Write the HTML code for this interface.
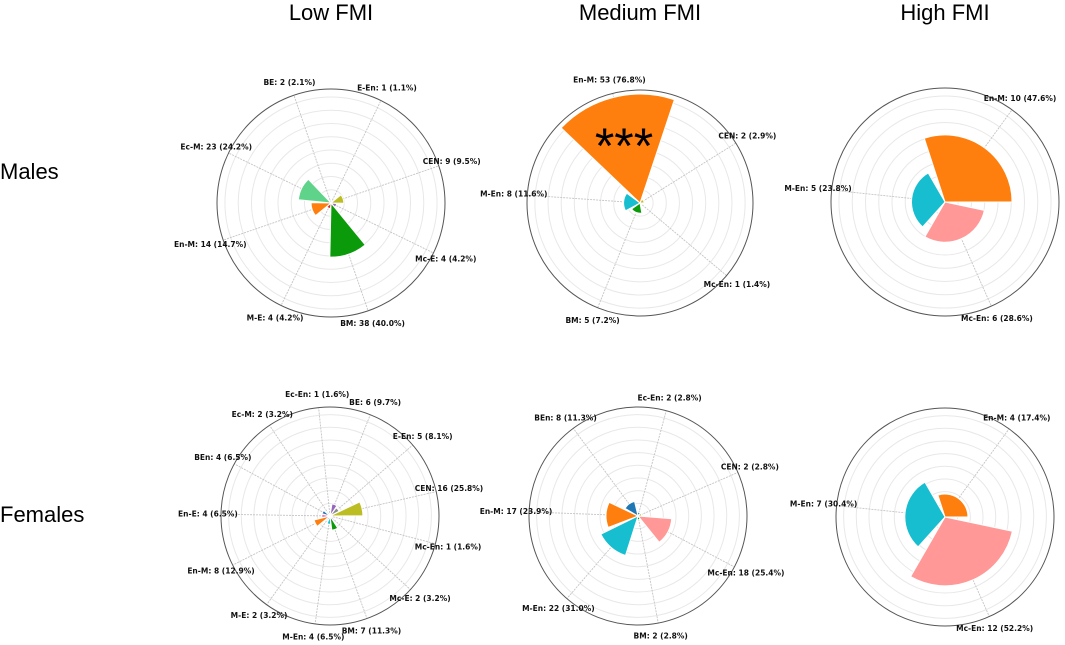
<!DOCTYPE html>
<html><head><meta charset="utf-8"><style>
body{margin:0;background:#fff;width:1065px;height:645px;overflow:hidden}
svg{display:block}
.t{font-family:"Liberation Sans",sans-serif;fill:#000}
.lb{font-family:"DejaVu Sans",sans-serif;font-weight:bold;font-size:7.5px;fill:#111}
</style></head><body>
<svg id="fig" width="1065" height="645" viewBox="0 0 1065 645" xmlns="http://www.w3.org/2000/svg">
<text class="t" x="331" y="20" font-size="22" text-anchor="middle">Low FMI</text>
<text class="t" x="640" y="20" font-size="22" text-anchor="middle">Medium FMI</text>
<text class="t" x="945" y="20" font-size="22" text-anchor="middle">High FMI</text>
<text class="t" x="0" y="179" font-size="22">Males</text>
<text class="t" x="0" y="522" font-size="22">Females</text>
<g id="plots"></g>
</svg>
<script>
// ---- data ----
const lowMaleCats = ["BE","E-En","CEN","Mc-E","BM","M-E","En-M","Ec-M"];
const lowMaleCounts = [2,1,9,4,38,4,14,23];
const lowMalePcts = ["2.1","1.1","9.5","4.2","40.0","4.2","14.7","24.2"];

const lowFemaleCats = ["Ec-En","BE","E-En","CEN","Mc-En","Mc-E","BM","M-En","M-E","En-M","En-E","BEn","Ec-M"];
const lowFemaleCounts = [1,6,5,16,1,2,7,4,2,8,4,4,2];
const lowFemalePcts = ["1.6","9.7","8.1","25.8","1.6","3.2","11.3","6.5","3.2","12.9","6.5","6.5","3.2"];

const medMaleCats = ["En-M","CEN","Mc-En","BM","M-En"];
const medMaleCounts = [53,2,1,5,8];
const medMalePcts = ["76.8","2.9","1.4","7.2","11.6"];

const medFemaleCats = ["Ec-En","CEN","Mc-En","BM","M-En","En-M","BEn"];
const medFemaleCounts = [2,2,18,2,22,17,8];
const medFemalePcts = ["2.8","2.8","25.4","2.8","31.0","23.9","11.3"];

const highMaleCats = ["En-M","Mc-En","M-En"];
const highMaleCounts = [10,6,5];
const highMalePcts = ["47.6","28.6","23.8"];

const highFemaleCats = ["En-M","Mc-En","M-En"];
const highFemaleCounts = [4,12,7];
const highFemalePcts = ["17.4","52.2","30.4"];

const colors = {"BE":"#9467bd","E-En":"#8c8c8c","CEN":"#bcbd22","Mc-E":"#9467bd","BM":"#0a9a0a","M-E":"#d62728",
 "En-M":"#ff7f0e","Ec-M":"#5fd38a","Ec-En":"#1f77b4","Mc-En":"#ff9896","M-En":"#17becf","En-E":"#e377c2","BEn":"#1f77b4"};

const plotsSpec = [
 {name:"low-males",cats:lowMaleCats,counts:lowMaleCounts,pcts:lowMalePcts,cx:331,cy:203,r:114,start:341,rmax:80},
 {name:"low-females",cats:lowFemaleCats,counts:lowFemaleCounts,pcts:lowFemalePcts,cx:330,cy:516,r:109,start:354,rmax:53},
 {name:"medium-males",cats:medMaleCats,counts:medMaleCounts,pcts:medMalePcts,cx:640,cy:203,r:113,start:346,rmax:55,stars:true},
 {name:"medium-females",cats:medFemaleCats,counts:medFemaleCounts,pcts:medFemalePcts,cx:638,cy:516,r:109,start:15,rmax:58},
 {name:"high-males",cats:highMaleCats,counts:highMaleCounts,pcts:highMalePcts,cx:945,cy:202,r:114,start:36,rmax:17},
 {name:"high-females",cats:highFemaleCats,counts:highFemaleCounts,pcts:highFemalePcts,cx:945,cy:517,r:109,start:36,rmax:19}
];
const NS="http://www.w3.org/2000/svg";
const root=document.getElementById('plots');
function mk(tag,attrs,parent){const e=document.createElementNS(NS,tag);for(const k in attrs)e.setAttribute(k,attrs[k]);parent.appendChild(e);return e;}
function pt(cx,cy,rad,deg){const a=deg*Math.PI/180;return [cx+rad*Math.sin(a),cy-rad*Math.cos(a)];}

plotsSpec.forEach(p=>{
 const g=mk('g',{},root);
 
 
 const n=p.cats.length, step=360/n;
 const rScale=v=>Math.min(p.r,v/p.rmax*p.r);
 for(let i=1;i<=8;i++){
  const c=mk('circle',{cx:p.cx,cy:p.cy,r:p.r*i/8.6,fill:'none',stroke:'#e8e8e8','stroke-width':1},g);
  
  
 }
 p.cats.forEach((c,i)=>{
  const ang=p.start+i*step;
  const e=pt(p.cx,p.cy,p.r,ang);
  const l=mk('line',{x1:p.cx,y1:p.cy,x2:e[0],y2:e[1],stroke:'#c4c4c4','stroke-width':0.9,'stroke-dasharray':'2,1'},g);
  
  
 });
 p.cats.forEach((c,i)=>{
  const ang=p.start+i*step, half=step*0.45, rr=rScale(p.counts[i]);
  const a=pt(p.cx,p.cy,rr,ang-half), b=pt(p.cx,p.cy,rr,ang+half);
  const d=`M${p.cx},${p.cy}L${a[0]},${a[1]}A${rr},${rr} 0 0 1 ${b[0]},${b[1]}Z`;
  const w=mk('path',{d:d,fill:colors[c],stroke:'#fff','stroke-width':1},g);
  
  
 });
 const oc=mk('circle',{cx:p.cx,cy:p.cy,r:p.r,fill:'none',stroke:'#555','stroke-width':1},g);
 
 
 p.cats.forEach((c,i)=>{
  const ang=p.start+i*step;
  const q=pt(p.cx,p.cy,p.r*1.12,ang);
  const t=mk('text',{x:q[0],y:q[1]+2.5,'text-anchor':'middle',class:'lb'},g);
  t.textContent=`${c}: ${p.counts[i]} (${p.pcts[i]}%)`;
  
  
 });
 if(p.stars){
  const s=mk('text',{x:p.cx-16,y:p.cy-40,'text-anchor':'middle',class:'t','font-size':50},g);
  s.textContent='***';
  
  
 }
});
</script>
</body></html>
